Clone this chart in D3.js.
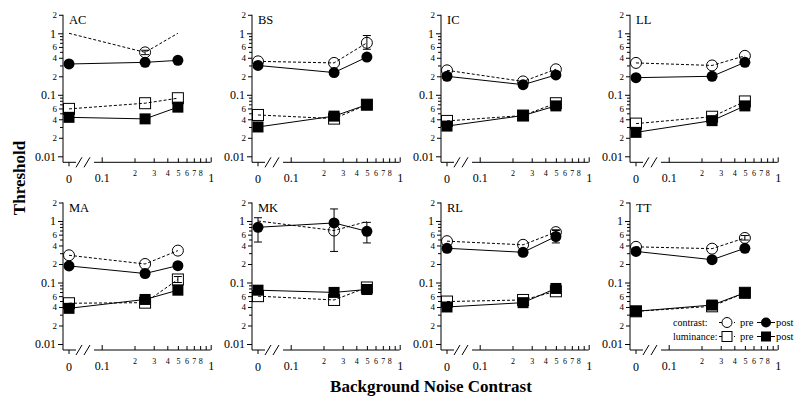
<!DOCTYPE html>
<html><head><meta charset="utf-8">
<script src="https://cdn.jsdelivr.net/npm/d3@7"></script>
<style>body{margin:0;background:#fff}svg{display:block}text{font-family:"Liberation Serif","Times New Roman",serif;fill:#000}</style>
</head><body><svg id="c" width="800" height="400"></svg>
<script>
const subjects = ["AC","BS","IC","LL","MA","MK","RL","TT"];
const noiseLevels = [0, 0.25, 0.5];
const contrastPre  = [[1.0,0.49,1.0],[0.35,0.33,0.70],[0.25,0.165,0.26],[0.33,0.30,0.43],[0.277,0.20,0.33],[1.0,0.70,0.98],[0.47,0.41,0.66],[0.38,0.355,0.53]];
const contrastPost = [[0.317,0.337,0.363],[0.30,0.23,0.41],[0.20,0.146,0.21],[0.19,0.20,0.337],[0.186,0.14,0.188],[0.79,0.93,0.68],[0.36,0.31,0.56],[0.32,0.235,0.36]];
const lumPre  = [[0.059,0.073,0.088],[0.047,0.041,0.069],[0.0376,0.046,0.073],[0.034,0.044,0.078],[0.046,0.047,0.112],[0.060,0.052,0.083],[0.049,0.052,0.072],[0.034,0.041,0.068]];
const lumPost = [[0.043,0.0406,0.063],[0.030,0.045,0.069],[0.031,0.046,0.066],[0.0245,0.038,0.066],[0.038,0.053,0.075],[0.075,0.069,0.077],[0.040,0.047,0.080],[0.034,0.043,0.068]];
// contrast "pre" points drawn without a marker (line only)
const preHiddenSubject = ["AC","AC","MK","MK"];
const preHiddenLevel   = [0, 2, 0, 2];
// error bars
const errSubject = ["AC","BS","MK","MK","MK","RL","RL","MA","MA","TT"];
const errSeries  = ["cpre","cpre","cpre","cpost","cpost","cpost","cpre","cpost","lpre","cpre"];
const errLevel   = [1,2,1,0,2,2,2,2,2,2];
const errLo      = [0.45,0.55,0.32,0.455,0.44,0.44,0.60,0.165,0.10,0.49];
const errHi      = [0.53,0.92,1.57,1.13,0.95,0.70,0.72,0.21,0.125,0.58];
const yMajor = [0.01,0.1,1];
const yMinorLabeled = [0.02,0.04,0.06,0.2,0.4,0.6,2];
const yMinor = [0.03,0.05,0.07,0.08,0.09,0.3,0.5,0.7,0.8,0.9];
const xMajor = [0.1,1];
const xMinorLabeled = [0.2,0.3,0.4,0.5,0.6,0.7,0.8];
const xMinor = [0.9];

const svg = d3.select("#c");
const decade = 61.5;
const series = {cpre: contrastPre, cpost: contrastPost, lpre: lumPre, lpost: lumPost};

subjects.forEach((s, i) => {
  const col = i % 4, row = Math.floor(i / 4);
  const ax = 63 + col * 189;
  const y01 = 156.3 + row * 187.7;
  const xAxisY = y01 + 6;
  const y = d3.scaleLog().domain([0.01, 2]).range([y01, y01 - Math.log10(200) * decade]);
  const xl = d3.scaleLog().domain([0.1, 1]).range([ax + 38.7, ax + 147.7]);
  const xpos = v => v === 0 ? ax + 6 : xl(v);
  const g = svg.append("g");

  // y axis
  g.append("line").attr("x1", ax).attr("x2", ax).attr("y1", y(2)).attr("y2", xAxisY).attr("stroke", "#000");
  const yAx = (vals, size, fs, fmt) => {
    const a = g.append("g").attr("transform", `translate(${ax},0)`)
      .call(d3.axisLeft(y).tickValues(vals).tickSize(size).tickPadding(2).tickFormat(fmt));
    a.select(".domain").remove();
    a.selectAll("text").style("font-size", fs + "px").attr("font-family", null);
  };
  yAx(yMajor, 5, 12, d => d === 1 ? "1" : String(d));
  yAx(yMinorLabeled, 4, 9, d => String(Math.round(d / Math.pow(10, Math.floor(Math.log10(d) + 1e-9)))));
  yAx(yMinor, 3, 9, () => "");

  // x axis
  g.append("line").attr("x1", ax).attr("x2", ax + 13).attr("y1", xAxisY).attr("y2", xAxisY).attr("stroke", "#000");
  g.append("line").attr("x1", ax + 31).attr("x2", xl(1)).attr("y1", xAxisY).attr("y2", xAxisY).attr("stroke", "#000");
  [ax + 16, ax + 24].forEach(cx => g.append("line").attr("x1", cx - 3).attr("x2", cx + 3)
    .attr("y1", xAxisY + 5).attr("y2", xAxisY - 5).attr("stroke", "#000"));
  const xAx = (vals, size, pad, fs, fmt) => {
    const a = g.append("g").attr("transform", `translate(0,${xAxisY})`)
      .call(d3.axisBottom(xl).tickValues(vals).tickSizeInner(size).tickSizeOuter(0).tickPadding(pad).tickFormat(fmt));
    a.select(".domain").remove();
    a.selectAll("text").style("font-size", fs + "px").attr("font-family", null);
  };
  xAx(xMajor, -5, 11.5, 12, d => String(d));
  xAx(xMinorLabeled, -4, 8.5, 8, d => String(Math.round(d * 10)));
  xAx(xMinor, -4, 8.5, 8, () => "");
  g.append("line").attr("x1", xpos(0)).attr("x2", xpos(0)).attr("y1", xAxisY).attr("y2", xAxisY + 4).attr("stroke", "#000");
  g.append("text").attr("x", xpos(0)).attr("y", xAxisY + 20.5).attr("text-anchor", "middle").style("font-size", "12px").text("0");

  // subject label
  g.append("text").attr("x", ax + 6).attr("y", y01 - 132).style("font-size", "12.5px").text(s);

  const line = d3.line().x((d, k) => xpos(noiseLevels[k])).y(d => y(d));
  // lines
  [["cpre", true], ["cpost", false], ["lpre", true], ["lpost", false]].forEach(([key, dashed]) => {
    g.append("path").datum(series[key][i]).attr("d", line).attr("fill", "none").attr("stroke", "#000")
      .attr("stroke-width", 1).attr("stroke-dasharray", dashed ? "3,2" : null);
  });
  // markers
  const hidden = new Set(preHiddenSubject.map((h, k) => h === s ? preHiddenLevel[k] : -1));
  series.cpre[i].forEach((v, k) => {
    if (hidden.has(k)) return;
    g.append("circle").attr("cx", xpos(noiseLevels[k])).attr("cy", y(v)).attr("r", 5.5).attr("fill", "none").attr("stroke", "#000");
  });
  series.lpre[i].forEach((v, k) => {
    g.append("rect").attr("x", xpos(noiseLevels[k]) - 5.5).attr("y", y(v) - 5.5).attr("width", 11).attr("height", 11).attr("fill", "none").attr("stroke", "#000");
  });
  series.cpost[i].forEach((v, k) => {
    g.append("circle").attr("cx", xpos(noiseLevels[k])).attr("cy", y(v)).attr("r", 5.5).attr("fill", "#000");
  });
  series.lpost[i].forEach((v, k) => {
    g.append("rect").attr("x", xpos(noiseLevels[k]) - 5.5).attr("y", y(v) - 5.5).attr("width", 11).attr("height", 11).attr("fill", "#000");
  });
  // error bars
  errSubject.forEach((es, k) => {
    if (es !== s) return;
    const cx = xpos(noiseLevels[errLevel[k]]);
    const y1 = y(errLo[k]), y2 = y(errHi[k]);
    g.append("line").attr("x1", cx).attr("x2", cx).attr("y1", y1).attr("y2", y2).attr("stroke", "#000");
    [y1, y2].forEach(yy => g.append("line").attr("x1", cx - 4).attr("x2", cx + 4).attr("y1", yy).attr("y2", yy).attr("stroke", "#000"));
  });
});

// legend
const lg = svg.append("g");
const rowsL = [["contrast:", 326, "circle"], ["luminance:", 340, "rect"]];
rowsL.forEach(([lab, by, shape]) => {
  const cy = by - 3.5;
  lg.append("text").attr("x", 673).attr("y", by).style("font-size", "10px").text(lab);
  lg.append("line").attr("x1", 719).attr("x2", 735).attr("y1", cy).attr("y2", cy).attr("stroke", "#000").attr("stroke-dasharray", "3,2");
  lg.append("line").attr("x1", 757).attr("x2", 775).attr("y1", cy).attr("y2", cy).attr("stroke", "#000");
  if (shape === "circle") {
    lg.append("circle").attr("cx", 727).attr("cy", cy).attr("r", 5).attr("fill", "#fff").attr("stroke", "#000");
    lg.append("circle").attr("cx", 766).attr("cy", cy).attr("r", 5).attr("fill", "#000");
  } else {
    lg.append("rect").attr("x", 722).attr("y", cy - 5).attr("width", 10).attr("height", 10).attr("fill", "#fff").attr("stroke", "#000");
    lg.append("rect").attr("x", 761).attr("y", cy - 5).attr("width", 10).attr("height", 10).attr("fill", "#000");
  }
  lg.append("text").attr("x", 740).attr("y", by).style("font-size", "10.5px").text("pre");
  lg.append("text").attr("x", 776).attr("y", by).style("font-size", "10.5px").text("post");
});

// titles
svg.append("text").attr("x", 431).attr("y", 392).attr("text-anchor", "middle")
  .style("font-size", "17px").style("font-weight", "bold").text("Background Noise Contrast");
svg.append("text").attr("transform", "translate(25,178) rotate(-90)").attr("text-anchor", "middle")
  .style("font-size", "17px").style("font-weight", "bold").text("Threshold");
</script></body></html>
